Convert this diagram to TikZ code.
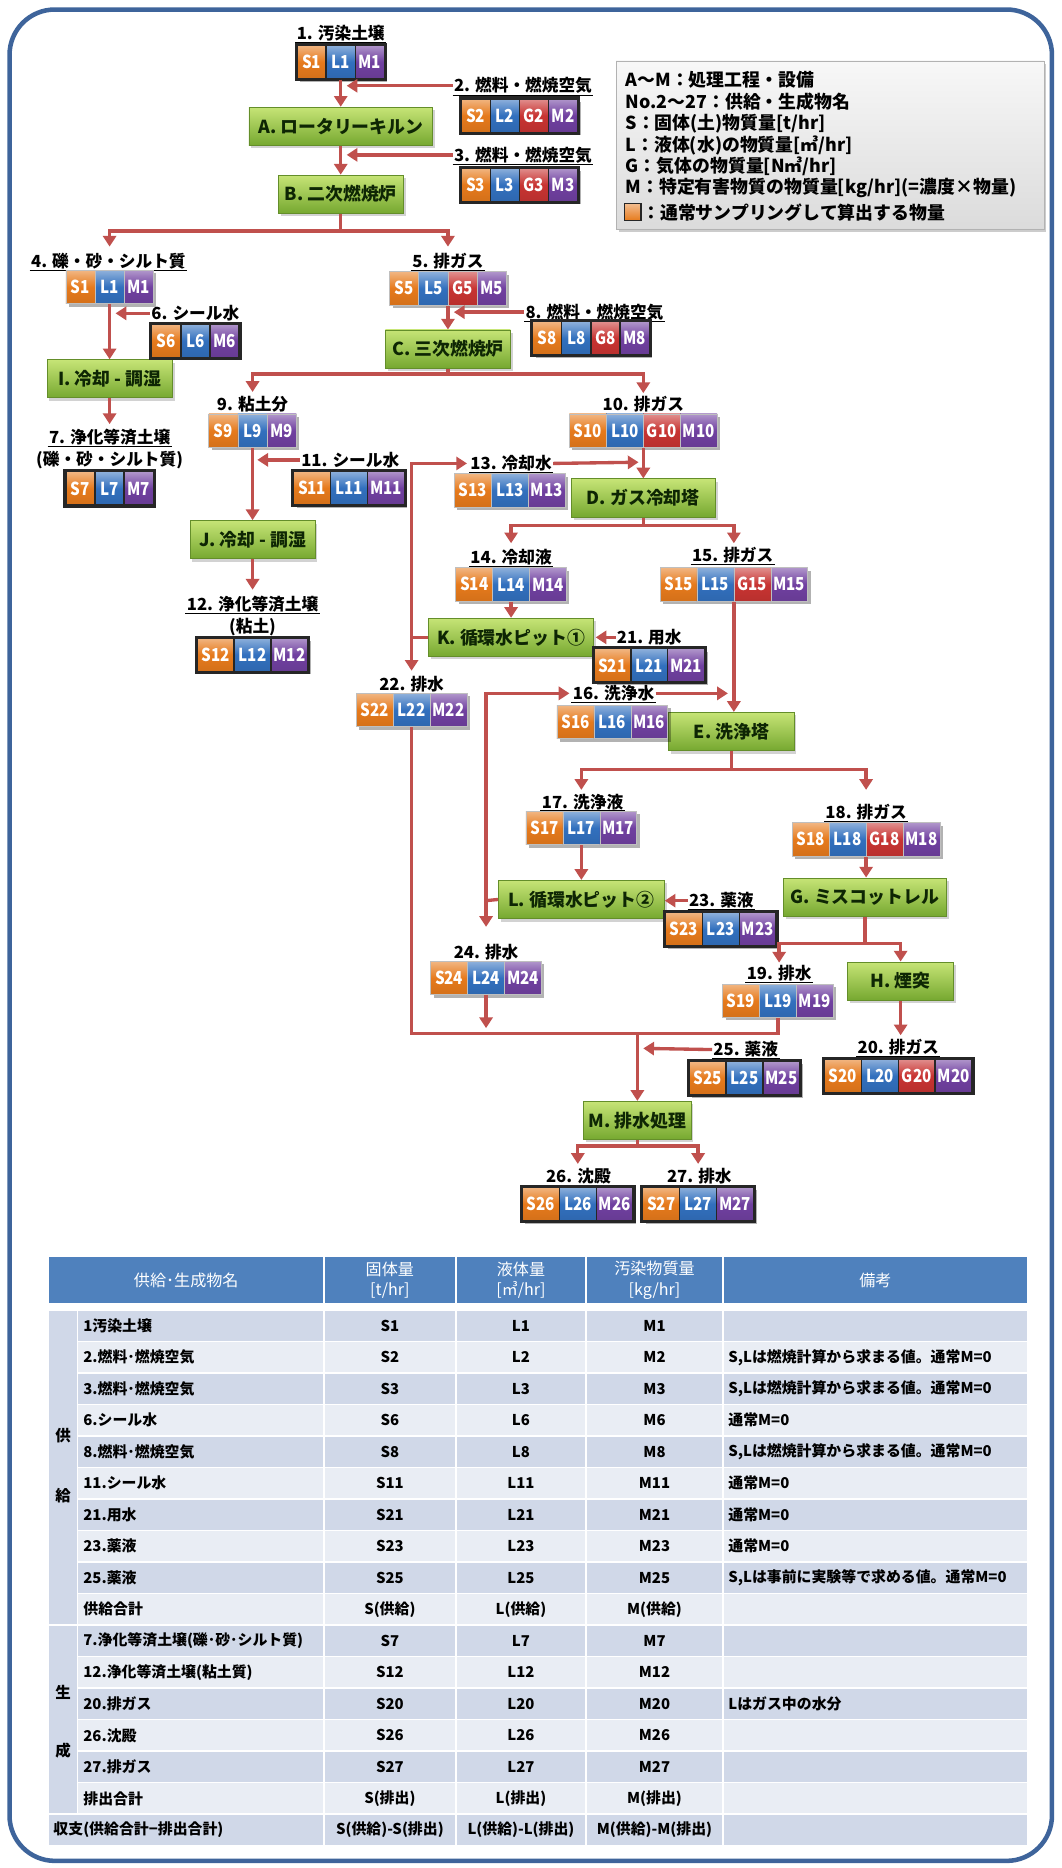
\documentclass[tikz,border=0pt]{standalone}
\usepackage{fontspec}
\setmainfont{Noto Sans CJK JP}
\usepackage{graphicx}
\usetikzlibrary{arrows.meta,shadows,fit,calc}

\definecolor{ared}{RGB}{192,80,77}
\definecolor{cS}{RGB}{230,122,28}
\definecolor{cL}{RGB}{50,112,190}
\definecolor{cG}{RGB}{200,52,50}
\definecolor{cM}{RGB}{112,64,160}
\definecolor{pgtop}{RGB}{198,228,118}
\definecolor{pgbot}{RGB}{118,168,48}
\definecolor{pbord}{RGB}{100,142,42}
\definecolor{ptext}{RGB}{14,38,4}
\definecolor{fblue}{RGB}{62,100,155}
\definecolor{hblue}{RGB}{79,129,189}
\definecolor{tdark}{RGB}{208,216,232}
\definecolor{tlight}{RGB}{233,237,244}

\tikzset{
  redarrow/.style={draw=ared, line width=2.8, -{Triangle[width=11pt,length=9pt]}},
  redline/.style={draw=ared, line width=2.8},
  lbl/.style={font=\fontsize{14}{16}\selectfont\bfseries, inner sep=1pt},
  procbox/.style={draw=pbord, line width=0.8, top color=pgtop, bottom color=pgbot,
    minimum height=32, inner sep=0, text=ptext, font=\fontsize{15}{15}\selectfont\bfseries,
    drop shadow={opacity=0.35, shadow xshift=2pt, shadow yshift=-2.5pt}},
  dcell/.style={minimum height=28, inner sep=0, text=white, font=\fontsize{15}{15}\selectfont\bfseries},
  uline/.style={line width=1.1, black},
  legtext/.style={anchor=west, inner sep=0, font=\fontsize{15}{17}\selectfont\bfseries},
  tbg/.style={draw=white, line width=1.2, inner ysep=0, anchor=north west, minimum height=26.45,
    font=\fontsize{12.5}{14}\selectfont\bfseries},
  hcell/.style={draw=white, line width=1.2, fill=hblue, anchor=north west, minimum height=40,
    inner ysep=0, text=white, align=center, font=\fontsize{13.5}{17}\selectfont},
}

% data box: name, x, y, cell width, count, list, cell options
\newcommand\dbox[7]{%
  \fill[black,opacity=0.3] ({#2-#5*#4/2+2.5},{#3-14+2.5}) rectangle ({#2+#5*#4/2+2.5},{#3+14+2.5});
  \foreach \xtxt/\xcol [count=\xi] in {#6} {
    \node[dcell,#7,top color=\xcol!55!white,bottom color=\xcol!92!black,middle color=\xcol,minimum width=#4]
      (#1-\xi) at ({#2+(\xi-(#5+1)/2)*#4},#3) {\scalebox{0.85}[1]{\xtxt}};
  }
  \node[fit=(#1-1)(#1-#5),inner sep=0pt] (#1) {};
}
\newcommand\pbox[6]{\dbox{#1}{#2}{#3}{#4}{#5}{#6}{draw=black!25,line width=0.5}}
\newcommand\qbox[6]{\dbox{#1}{#2}{#3}{#4}{#5}{#6}{draw=black!85,line width=1.2}%
  \draw[line width=2.4,black!85] (#1.north west) rectangle (#1.south east);}

\def\rmA{S,Lは燃焼計算から求まる値。通常M=0}
\def\rmB{通常M=0}
\def\rmC{S,Lは事前に実験等で求める値。通常M=0}
\def\rmD{Lはガス中の水分}
\def\rmN{}

\begin{document}
\begin{tikzpicture}[x=1pt,y=-1pt]
\useasboundingbox (0,0) rectangle (891,1568);
\fill[white] (0,0) rectangle (891,1568);
\draw[fblue,line width=3.8,rounded corners=38] (8,8) rectangle (883,1562);

% ---------- legend ----------
\node[draw=gray!60, top color=gray!6, bottom color=gray!28, minimum width=359, minimum height=141,
  anchor=north west, inner sep=0, drop shadow={opacity=0.4,shadow xshift=2pt,shadow yshift=-2.5pt}] (legend) at (517,51) {};
\node[legtext] (leg1) at (525,67) {A～M：処理工程・設備};
\node[legtext] (leg2) at (525,85.5) {No.2～27：供給・生成物名};
\node[legtext] (leg3) at (525,103.5) {S：固体(土)物質量[t/hr]};
\node[legtext] (leg4) at (525,122) {L：液体(水)の物質量[㎥/hr]};
\node[legtext] (leg5) at (525,140) {G：気体の物質量[N㎥/hr]};
\node[legtext] (leg6) at (525,158) {M：特定有害物質の物質量[kg/hr](=濃度×物量)};
\node[draw=black!85, line width=1.2, top color=cS!50!white, bottom color=cS, minimum size=14, inner sep=0] (legsq) at (531,178) {};
\node[legtext] (leg7) at (539,178) {：通常サンプリングして算出する物量};

% ---------- process boxes ----------
\node[procbox, minimum width=154] (A) at (286,106) {A. ロータリーキルン};
\node[procbox, minimum width=105] (B) at (286,163) {B. 二次燃焼炉};
\node[procbox, minimum width=105] (C) at (376,293) {C. 三次燃焼炉};
\node[procbox, minimum width=105] (I) at (92,318) {I. 冷却 - 調湿};
\node[procbox, minimum width=105] (J) at (212,453) {J. 冷却 - 調湿};
\node[procbox, minimum width=121] (D) at (540,418) {D. ガス冷却塔};
\node[procbox, minimum width=138] (K) at (429,535) {K. 循環水ピット①};
\node[procbox, minimum width=105] (E) at (614,614) {E. 洗浄塔};
\node[procbox, minimum width=139] (L) at (488,755) {L. 循環水ピット②};
\node[procbox, minimum width=137] (G) at (726,753) {G. ミスコットレル};
\node[procbox, minimum width=89] (H) at (756,823.5) {H. 煙突};
\node[procbox, minimum width=90] (M) at (535,940.5) {M. 排水処理};

% ---------- labels ----------
\node[lbl] (l1) at (286,28) {1. 汚染土壌};
\node[lbl] (l2) at (439,72) {2. 燃料・燃焼空気};
\node[lbl] (l3) at (439,130) {3. 燃料・燃焼空気};
\node[lbl] (l4) at (91,219) {4. 礫・砂・シルト質};
\node[lbl] (l5) at (376,219) {5. 排ガス};
\node[lbl] (l6) at (164,263) {6. シール水};
\node[lbl] (l8) at (499,262) {8. 燃料・燃焼空気};
\node[lbl] (l9) at (212,339) {9. 粘土分};
\node[lbl] (l10) at (540,339) {10. 排ガス};
\node[lbl] (l7) at (92,367) {7. 浄化等済土壌};
\node[lbl] (l7b) at (92,386) {(礫・砂・シルト質)};
\node[lbl] (l11) at (294,386) {11. シール水};
\node[lbl] (l13) at (429,389) {13. 冷却水};
\node[lbl] (l14) at (429,468) {14. 冷却液};
\node[lbl] (l15) at (615,466) {15. 排ガス};
\node[lbl] (l12) at (212,507) {12. 浄化等済土壌};
\node[lbl] (l12b) at (212,526) {(粘土)};
\node[lbl] (l21) at (545,535) {21. 用水};
\node[lbl] (l22) at (345.5,574) {22. 排水};
\node[lbl] (l16) at (515,582) {16. 洗浄水};
\node[lbl] (l17) at (489,673) {17. 洗浄液};
\node[lbl] (l18) at (727,682) {18. 排ガス};
\node[lbl] (l23) at (605.5,756) {23. 薬液};
\node[lbl] (l24) at (408,799) {24. 排水};
\node[lbl] (l19) at (654,817) {19. 排水};
\node[lbl] (l20) at (754,879) {20. 排ガス};
\node[lbl] (l25) at (626,881) {25. 薬液};
\node[lbl] (l26) at (485.5,987) {26. 沈殿};
\node[lbl] (l27) at (587,987) {27. 排水};
\foreach \lname in {l1,l2,l3,l4,l5,l6,l7,l8,l9,l10,l11,l12,l13,l14,l15,l16,l17,l18,l19,l20,l21,l22,l23,l24,l25,l26,l27}
  \draw[uline] (\lname.south west) -- (\lname.south east);

% ---------- data boxes ----------
\qbox{b1}{286}{52}{24.5}{3}{S1/cS,L1/cL,M1/cM}
\qbox{b2}{436}{97}{24.5}{4}{S2/cS,L2/cL,G2/cG,M2/cM}
\qbox{b3}{436}{155}{24.5}{4}{S3/cS,L3/cL,G3/cG,M3/cM}
\pbox{b4}{92}{241}{24.5}{3}{S1/cS,L1/cL,M1/cM}
\pbox{b5}{376}{242}{24.5}{4}{S5/cS,L5/cL,G5/cG,M5/cM}
\qbox{b6}{164}{286}{24.5}{3}{S6/cS,L6/cL,M6/cM}
\qbox{b8}{496}{284}{24.5}{4}{S8/cS,L8/cL,G8/cG,M8/cM}
\pbox{b9}{212}{361.5}{24.5}{3}{S9/cS,L9/cL,M9/cM}
\pbox{b10}{540}{361.5}{31}{4}{S10/cS,L10/cL,G10/cG,M10/cM}
\qbox{b7}{92}{410}{24.5}{3}{S7/cS,L7/cL,M7/cM}
\qbox{b11}{293}{409.5}{31}{3}{S11/cS,L11/cL,M11/cM}
\pbox{b13}{428}{411.5}{31}{3}{S13/cS,L13/cL,M13/cM}
\pbox{b14}{429}{490.5}{31}{3}{S14/cS,L14/cL,M14/cM}
\pbox{b15}{616}{490.5}{31}{4}{S15/cS,L15/cL,G15/cG,M15/cM}
\qbox{b12}{212}{549.5}{31}{3}{S12/cS,L12/cL,M12/cM}
\qbox{b21}{545}{558.5}{31}{3}{S21/cS,L21/cL,M21/cM}
\pbox{b22}{345.5}{596}{31}{3}{S22/cS,L22/cL,M22/cM}
\pbox{b16}{514}{606}{31}{3}{S16/cS,L16/cL,M16/cM}
\pbox{b17}{488}{695}{31}{3}{S17/cS,L17/cL,M17/cM}
\pbox{b18}{727}{704.5}{31}{4}{S18/cS,L18/cL,G18/cG,M18/cM}
\qbox{b23}{605}{780}{31}{3}{S23/cS,L23/cL,M23/cM}
\pbox{b24}{408}{821}{31}{3}{S24/cS,L24/cL,M24/cM}
\pbox{b19}{653}{840}{31}{3}{S19/cS,L19/cL,M19/cM}
\qbox{b20}{754}{903}{31}{4}{S20/cS,L20/cL,G20/cG,M20/cM}
\qbox{b25}{625}{905}{31}{3}{S25/cS,L25/cL,M25/cM}
\qbox{b26}{485}{1010.5}{31}{3}{S26/cS,L26/cL,M26/cM}
\qbox{b27}{586}{1010.5}{31}{3}{S27/cS,L27/cL,M27/cM}

% ---------- connectors ----------
\draw[redarrow] (b1) -- (A);
\coordinate (t2) at (291,72);  \draw[redarrow] (l2.west) -- (t2);
\draw[redarrow] (A) -- (B);
\coordinate (t3) at (291,130); \draw[redarrow] (l3.west) -- (t3);
\coordinate (sB) at (286,194);
\coordinate (t4) at (92,207);
\coordinate (t5) at (376,207);
\draw[redline] (B.south) -- (sB);
\draw[redarrow] (sB) -| (t4);
\draw[redarrow] (sB) -| (t5);
\draw[redarrow] (b4) -- (I);
\coordinate (t6) at (97,263); \draw[redarrow] (l6.west) -- (t6);
\coordinate (t7) at (92,356); \draw[redarrow] (I) -- (t7);
\draw[redarrow] (b5) -- (C);
\coordinate (t8) at (381,262); \draw[redarrow] (l8.west) -- (t8);
\coordinate (sC) at (376,314);
\coordinate (t9) at (212,329);
\coordinate (t10) at (540,330);
\draw[redline] (C.south) -- (sC);
\draw[redarrow] (sC) -| (t9);
\draw[redarrow] (sC) -| (t10);
\draw[redarrow] (b9) -- (J);
\coordinate (t11) at (216,386); \draw[redarrow] (l11.west) -- (t11);
\coordinate (t12) at (212,495); \draw[redarrow] (J) -- (t12);
\draw[redarrow] (b10) -- (D);
\coordinate (jK) at (345.5,535);
\coordinate (c13) at (345.5,389);
\coordinate (t13) at (392,389);
\coordinate (t22) at (345.5,563);
\draw[redline] (K.west) -- (jK);
\draw[redarrow] (jK) -- (c13) -- (t13);
\draw[redarrow] (jK) -- (t22);
\coordinate (t13b) at (536,388); \draw[redarrow] (l13.east) -- (t13b);
\coordinate (sD) at (540,441);
\coordinate (t14) at (429,456);
\coordinate (t15) at (616,456);
\draw[redline] (D.south) -- (sD);
\draw[redarrow] (sD) -| (t14);
\draw[redarrow] (sD) -| (t15);
\draw[redarrow] (b14) -- (K);
\coordinate (t21) at (500,535); \draw[redarrow] (l21.west) -- (t21);
\draw[redarrow] (b15.south) -- (b15.south |- E.north);
\coordinate (jL) at (408,756);
\coordinate (c16) at (408,582);
\coordinate (t16) at (478,582);
\coordinate (t24) at (408,778);
\draw[redline] (L.west) -- (jL);
\draw[redarrow] (jL) -- (c16) -- (t16);
\draw[redarrow] (jL) -- (t24);
\coordinate (t16b) at (611,582); \draw[redarrow] (l16.east) -- (t16b);
\coordinate (sE) at (614,646);
\coordinate (t17) at (488,663);
\coordinate (t18) at (727,663);
\draw[redline] (E.south) -- (sE);
\draw[redarrow] (sE) -| (t17);
\draw[redarrow] (sE) -| (t18);
\draw[redarrow] (b17) -- (L);
\coordinate (t23) at (558,756); \draw[redarrow] (l23.west) -- (t23);
\draw[redarrow] (b18.south) -- (b18.south |- G.north);
\coordinate (sG) at (726,792);
\coordinate (t19) at (654,808);
\draw[redline] (G.south) -- (sG);
\draw[redarrow] (sG) -| (t19);
\draw[redarrow] (sG) -| (H.north);
\coordinate (t20) at (756,869); \draw[redarrow] (H) -- (t20);
\coordinate (kM) at (535,867.5);
\draw[redline] (b22.south) |- (kM);
\draw[redline] (b19.south) |- (kM);
\coordinate (t24b) at (408,863); \draw[redarrow] (b24.south) -- (t24b);
\draw[redarrow] (kM) -- (M.north);
\coordinate (t25) at (540,880); \draw[redarrow] (l25.west) -- (t25);
\coordinate (sM) at (535,962);
\coordinate (t26) at (485,977);
\coordinate (t27) at (586,977);
\draw[redline] (M.south) -- (sM);
\draw[redarrow] (sM) -| (t26);
\draw[redarrow] (sM) -| (t27);

% ---------- table ----------
\node[hcell, minimum width=230.9] (h1) at (40.3,1054) {供給･生成物名};
\node[hcell, minimum width=110.9] (h2) at (271.2,1054) {固体量\\{[t/hr]}};
\node[hcell, minimum width=109.2] (h3) at (382.1,1054) {液体量\\{[㎥/hr]}};
\node[hcell, minimum width=115] (h4) at (491.3,1054) {汚染物質量\\{[kg/hr]}};
\node[hcell, minimum width=255.7] (h5) at (606.3,1054) {備考};

\node[tbg, fill=tdark, minimum width=24.1, minimum height=264.5] (g1) at (40.3,1099) {};
\node[tbg, fill=tdark, minimum width=24.1, minimum height=158.7] (g2) at (40.3,1363.5) {};
\node[font=\fontsize{13}{14}\selectfont\bfseries, inner sep=0] (g1a) at (53,1205) {供};
\node[font=\fontsize{13}{14}\selectfont\bfseries, inner sep=0] (g1b) at (53,1255.5) {給};
\node[font=\fontsize{13}{14}\selectfont\bfseries, inner sep=0] (g2a) at (53,1421) {生};
\node[font=\fontsize{13}{14}\selectfont\bfseries, inner sep=0] (g2b) at (53,1469.6) {成};

\foreach \nm/\sv/\lv/\mv/\rmk [count=\rowi] in {
  1汚染土壌/S1/L1/M1/\rmN,
  2.燃料･燃焼空気/S2/L2/M2/\rmA,
  3.燃料･燃焼空気/S3/L3/M3/\rmA,
  6.シール水/S6/L6/M6/\rmB,
  8.燃料･燃焼空気/S8/L8/M8/\rmA,
  11.シール水/S11/L11/M11/\rmB,
  21.用水/S21/L21/M21/\rmB,
  23.薬液/S23/L23/M23/\rmB,
  25.薬液/S25/L25/M25/\rmC,
  供給合計/S(供給)/L(供給)/M(供給)/\rmN,
  7.浄化等済土壌(礫･砂･シルト質)/S7/L7/M7/\rmN,
  12.浄化等済土壌(粘土質)/S12/L12/M12/\rmN,
  20.排ガス/S20/L20/M20/\rmD,
  26.沈殿/S26/L26/M26/\rmN,
  27.排ガス/S27/L27/M27/\rmN,
  排出合計/S(排出)/L(排出)/M(排出)/\rmN}{
  \pgfmathsetmacro\yt{1099+(\rowi-1)*26.45}
  \ifodd\rowi\relax\def\rc{tdark}\else\def\rc{tlight}\fi
  \node[tbg, fill=\rc, inner xsep=5, text width=196.8, align=left] (tn\rowi) at (64.4,\yt) {\nm};
  \node[tbg, fill=\rc, minimum width=110.9] (ts\rowi) at (271.2,\yt) {\sv};
  \node[tbg, fill=\rc, minimum width=109.2] (tl\rowi) at (382.1,\yt) {\lv};
  \node[tbg, fill=\rc, minimum width=115] (tm\rowi) at (491.3,\yt) {\mv};
  \node[tbg, fill=\rc, inner xsep=4.5, text width=246.7, align=left] (tr\rowi) at (606.3,\yt) {\rmk};
}
\node[tbg, fill=tdark, inner xsep=4, text width=222.9, align=left] (tn17) at (40.3,1522.2) {収支(供給合計−排出合計)};
\node[tbg, fill=tdark, minimum width=110.9] (ts17) at (271.2,1522.2) {S(供給)-S(排出)};
\node[tbg, fill=tdark, minimum width=109.2] (tl17) at (382.1,1522.2) {L(供給)-L(排出)};
\node[tbg, fill=tdark, minimum width=115] (tm17) at (491.3,1522.2) {M(供給)-M(排出)};
\node[tbg, fill=tdark, minimum width=255.7] (tr17) at (606.3,1522.2) {};
\end{tikzpicture}
\end{document}
